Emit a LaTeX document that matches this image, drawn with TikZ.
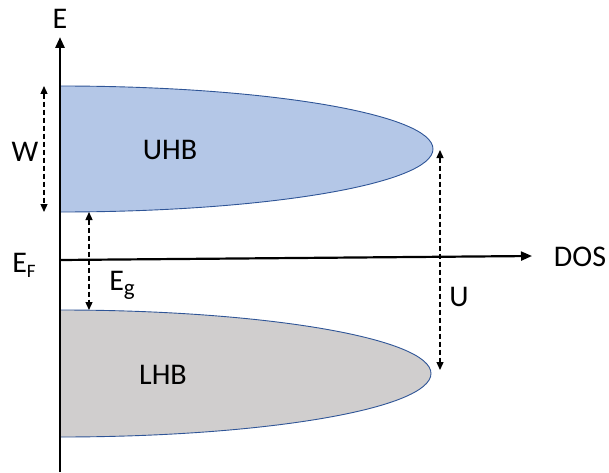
\documentclass[tikz,border=0pt]{standalone}
\usepackage{fontspec}
\setmainfont{Carlito}
\usetikzlibrary{arrows.meta}
\definecolor{uhbfill}{HTML}{B4C7E7}
\definecolor{lhbfill}{HTML}{D0CECE}
\definecolor{bandline}{HTML}{2F5597}
\tikzset{
  band/.style={draw=bandline, line width=0.9pt},
  axisline/.style={line width=2.2pt, -{Triangle[length=11pt,width=9pt]}},
  dimarrow/.style={line width=1.3pt, dashed, dash pattern=on 5pt off 3pt, {Triangle[length=8pt,width=7pt]}-{Triangle[length=8pt,width=7pt]}},
  lbl/.style={font=\fontsize{30}{32}\selectfont, inner sep=0pt}
}
\begin{document}
\begin{tikzpicture}[x=1pt,y=1pt]
\useasboundingbox (0,0) rectangle (609,472);
% bands
\path[band, fill=uhbfill] (60,260) arc[start angle=-90, end angle=90, x radius=373, y radius=63] -- cycle;
\path[band, fill=lhbfill] (60,35) arc[start angle=-90, end angle=90, x radius=371, y radius=63.5] -- cycle;
% axes
\coordinate (origin) at (60,212);
\coordinate (ybot) at (60,0);
\coordinate (ytop) at (60,435);
\coordinate (xend) at (532,216);
\draw[axisline, line width=2.8pt] (ybot) -- (ytop);
\draw[axisline] (origin) -- (xend);
\node[lbl] (Elab) at (60,453) {E};
\node[lbl] (DOS) at (580,215) {DOS};
\node[lbl] (EF) at (24,207) {E\raisebox{-0.35ex}{\fontsize{19}{21}\selectfont F}};
% dimension arrows
\coordinate (wt) at (44,386);
\coordinate (wb) at (44,260);
\draw[dimarrow] (wt) -- (wb);
\node[lbl] (W) at (25,320) {W};
\coordinate (gt) at (89,260);
\coordinate (gb) at (89,162);
\draw[dimarrow] (gt) -- (gb);
\node[lbl] (Eg) at (122,187) {E\raisebox{-0.35ex}{\fontsize{23}{25}\selectfont g}};
\coordinate (ut) at (440,322);
\coordinate (ub) at (440,102);
\draw[dimarrow] (ut) -- (ub);
\node[lbl] (U) at (459,175) {U};
% band labels
\node[lbl] (UHB) at (170,322) {UHB};
\node[lbl] (LHB) at (163,97) {LHB};
\end{tikzpicture}
\end{document}
